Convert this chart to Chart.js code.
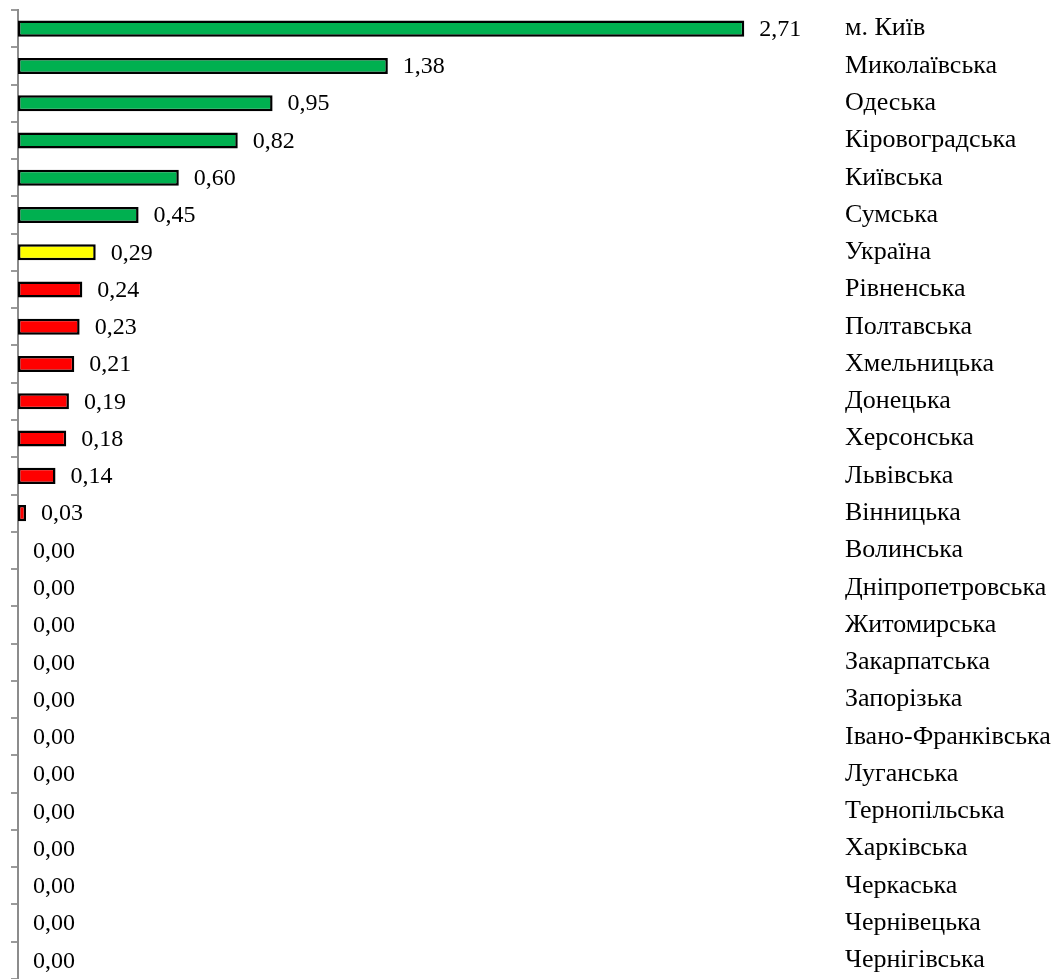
<!DOCTYPE html>
<html>
<head>
<meta charset="utf-8">
<script src="https://cdn.jsdelivr.net/npm/chart.js@4"></script>
<style>
  html, body { margin: 0; padding: 0; background: #fff; }
  #wrap { width: 1058px; height: 979px; position: relative; }
</style>
</head>
<body>
<div id="wrap"><canvas id="chart"></canvas></div>
<script>
const regions = ['м. Київ', 'Миколаївська', 'Одеська', 'Кіровоградська', 'Київська', 'Сумська', 'Україна',
  'Рівненська', 'Полтавська', 'Хмельницька', 'Донецька', 'Херсонська', 'Львівська', 'Вінницька',
  'Волинська', 'Дніпропетровська', 'Житомирська', 'Закарпатська', 'Запорізька', 'Івано-Франківська',
  'Луганська', 'Тернопільська', 'Харківська', 'Черкаська', 'Чернівецька', 'Чернігівська'];
const values = [2.71, 1.38, 0.95, 0.82, 0.60, 0.45, 0.29, 0.24, 0.23, 0.21, 0.19, 0.18, 0.14, 0.03,
  0, 0, 0, 0, 0, 0, 0, 0, 0, 0, 0, 0];
const groups = ['up', 'up', 'up', 'up', 'up', 'up', 'avg', 'down', 'down', 'down', 'down', 'down', 'down', 'down',
  'down', 'down', 'down', 'down', 'down', 'down', 'down', 'down', 'down', 'down', 'down', 'down'];

const groupColor = { up: '#00b050', avg: '#ffff00', down: '#ff0000' };
const serif = '"Liberation Serif", "DejaVu Serif", serif';

// value labels just after each bar end
const valueLabels = {
  id: 'valueLabels',
  afterDatasetsDraw(chart) {
    const ctx = chart.ctx;
    const meta = chart.getDatasetMeta(0);
    ctx.save();
    ctx.font = '24px ' + serif;
    ctx.fillStyle = '#000';
    ctx.textAlign = 'left';
    ctx.textBaseline = 'middle';
    meta.data.forEach((bar, i) => {
      ctx.fillText(values[i].toFixed(2).replace('.', ','), bar.x + 15, bar.y + 1);
    });
    ctx.restore();
  }
};

new Chart(document.getElementById('chart'), {
  type: 'bar',
  data: {
    labels: regions,
    datasets: [{
      data: values,
      backgroundColor: groups.map((g) => groupColor[g]),
      borderColor: '#000',
      borderWidth: 2.5,
      borderSkipped: false,
      barPercentage: 0.43,
      categoryPercentage: 1
    }]
  },
  options: {
    indexAxis: 'y',
    responsive: true,
    maintainAspectRatio: false,
    animation: false,
    layout: { padding: { left: 11, top: 10, right: 0, bottom: 0 } },
    plugins: { legend: { display: false }, tooltip: { enabled: false } },
    scales: {
      x: { display: false, min: 0, max: 3 },
      y: {
        position: 'left',
        ticks: { display: false },
        grid: { drawOnChartArea: false, tickLength: 7, color: '#9a9a9a', lineWidth: 2, offset: true },
        border: { color: '#8c8c8c', width: 2 },
        afterFit: (scale) => { scale.width = 7; scale.paddingTop = 0; scale.paddingBottom = 0; }
      },
      y2: {
        type: 'category',
        labels: regions,
        position: 'right',
        offset: true,
        grid: { display: false },
        border: { display: false },
        ticks: { color: '#000', font: { family: serif, size: 26 }, padding: 15 },
        afterFit: (scale) => { scale.width = 236; scale.paddingTop = 0; scale.paddingBottom = 0; }
      }
    }
  },
  plugins: [valueLabels]
});
</script>
</body>
</html>
